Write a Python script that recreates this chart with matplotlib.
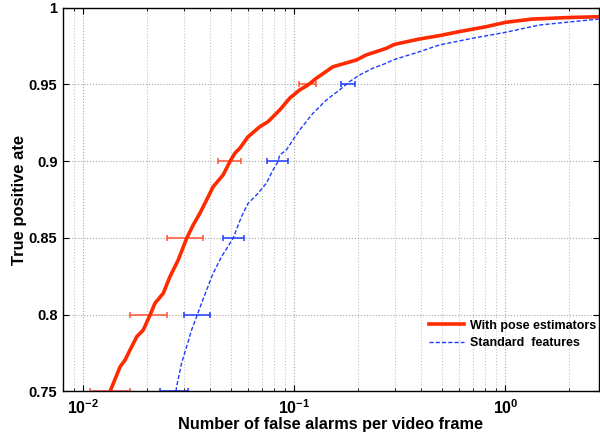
import matplotlib
matplotlib.use("Agg")
import matplotlib.pyplot as plt
from matplotlib.ticker import LogLocator, FixedLocator, FixedFormatter, NullFormatter

plt.rcParams['font.family'] = ['Liberation Sans', 'DejaVu Sans']
plt.rcParams['font.weight'] = 'bold'
plt.rcParams['mathtext.fontset'] = 'custom'
plt.rcParams['mathtext.rm'] = 'Liberation Sans:bold'
plt.rcParams['mathtext.it'] = 'Liberation Sans:bold'
plt.rcParams['mathtext.bf'] = 'Liberation Sans:bold'

# ---- data ----
pose_x = [0.01337, 0.01386, 0.01492, 0.01575, 0.01662, 0.01789, 0.01922, 0.02067,
          0.02183, 0.02389, 0.02570, 0.02813, 0.03083, 0.03312, 0.03562, 0.03834,
          0.04117, 0.04591, 0.04939, 0.05216, 0.05507, 0.06028, 0.06846, 0.07491,
          0.08511, 0.09490, 0.1058, 0.1158, 0.1269, 0.1521, 0.1962, 0.2188,
          0.2719, 0.2977, 0.3908, 0.4859, 0.6039, 0.8077, 1.004, 1.342, 2.074, 2.77]
pose_y = [0.750, 0.7552, 0.766, 0.7704, 0.7769, 0.7856, 0.7900, 0.7997,
          0.8074, 0.8139, 0.8247, 0.8356, 0.8497, 0.8584, 0.8660, 0.8747,
          0.8833, 0.8910, 0.8996, 0.9051, 0.9084, 0.9159, 0.9224, 0.9257,
          0.9333, 0.9410, 0.9464, 0.9496, 0.9540, 0.9615, 0.9659, 0.9692,
          0.9735, 0.9761, 0.9796, 0.9818, 0.9844, 0.9876, 0.9905, 0.9926, 0.9937, 0.9941]

std_x = [0.02744, 0.02764, 0.02917, 0.03083, 0.03255, 0.03437, 0.03629, 0.03834,
         0.04117, 0.04512, 0.05119, 0.05610, 0.06028, 0.06604, 0.07362, 0.07912,
         0.08356, 0.08511, 0.09156, 0.09838, 0.1058, 0.1224, 0.1415, 0.1636,
         0.1824, 0.2033, 0.2350, 0.2719, 0.2921, 0.3908, 0.4859, 0.6982,
         1.004, 1.443, 2.074, 2.77]
std_y = [0.750, 0.7530, 0.7683, 0.7791, 0.7900, 0.7986, 0.8074, 0.8160,
         0.8269, 0.8377, 0.8497, 0.8638, 0.8725, 0.8779, 0.8856, 0.8942,
         0.8996, 0.9040, 0.9073, 0.9138, 0.9203, 0.9312, 0.9398, 0.9464,
         0.9518, 0.9561, 0.9605, 0.9638, 0.9659, 0.9713, 0.9757, 0.9801,
         0.9840, 0.9887, 0.9909, 0.9926]

err_levels = [0.75, 0.80, 0.85, 0.90, 0.95]
pose_err_center = [0.01337, 0.02067, 0.03083, 0.04939, 0.1155]
pose_err_low = [0.0108, 0.01663, 0.02479, 0.04347, 0.1050]
pose_err_high = [0.0166, 0.02495, 0.03693, 0.05610, 0.1269]
std_err_center = [0.0275, 0.0346, 0.0514, 0.0833, 0.1805]
std_err_low = [0.02305, 0.0300, 0.0459, 0.0741, 0.1666]
std_err_high = [0.03126, 0.0397, 0.0577, 0.0936, 0.1947]

y_ticks = [0.75, 0.80, 0.85, 0.90, 0.95, 1.0]
y_tick_labels = ['0.75', '0.8', '0.85', '0.9', '0.95', '1']
series_labels = ['With pose estimators', 'Standard  features']
x_label = 'Number of false alarms per video frame'
y_label = 'True positive ate'

red = '#ff2a00'
blue = '#1f3cff'

fig = plt.figure(figsize=(6.0, 4.36), dpi=100)
ax = fig.add_axes([0.105, 0.1025, 0.893, 0.8798])

ax.set_xscale('log')
ax.set_xlim(0.008, 2.77)
ax.set_ylim(0.75, 1.0)

ax.grid(True, which='major', axis='both', linestyle=':', color='#a8a8a8', linewidth=0.8)
ax.grid(True, which='minor', axis='x', linestyle=':', color='#c4c4c4', linewidth=0.8)

ax.plot(pose_x, pose_y, color=red, linewidth=2.6, label=series_labels[0], zorder=3)
ax.plot(std_x, std_y, color=blue, linewidth=1.0, dashes=(3, 1.5), label=series_labels[1], zorder=3)

pxerr = [[c - l for c, l in zip(pose_err_center, pose_err_low)],
         [h - c for c, h in zip(pose_err_center, pose_err_high)]]
sxerr = [[c - l for c, l in zip(std_err_center, std_err_low)],
         [h - c for c, h in zip(std_err_center, std_err_high)]]
ax.errorbar(pose_err_center, err_levels, xerr=pxerr, fmt='none', ecolor='#ff5533',
            elinewidth=1.1, capsize=2.5, capthick=1.1, zorder=2.2)
ax.errorbar(std_err_center, err_levels, xerr=sxerr, fmt='none', ecolor=blue,
            elinewidth=1.1, capsize=2.5, capthick=1.1, zorder=2.2)

ax.yaxis.set_major_locator(FixedLocator(y_ticks))
ax.yaxis.set_major_formatter(FixedFormatter(y_tick_labels))
ax.xaxis.set_major_locator(LogLocator(base=10, numticks=10))
ax.xaxis.set_minor_locator(LogLocator(base=10, subs=tuple(range(2, 10)), numticks=30))
ax.xaxis.set_minor_formatter(NullFormatter())

ax.tick_params(which='both', direction='in', top=True, right=True)
ax.tick_params(which='major', length=4, width=0.8, pad=4)
ax.tick_params(axis='y', which='major', labelsize=10.5)
ax.tick_params(axis='x', which='major', labelsize=11.5, pad=5)
ax.tick_params(which='minor', length=2, width=0.6)
for lab in ax.get_yticklabels():
    lab.set_fontweight('bold')

for s in ax.spines.values():
    s.set_linewidth(1.0)
    s.set_zorder(2.5)

ax.set_xlabel(x_label, fontsize=11.7, fontweight='bold', labelpad=0)
ax.set_ylabel(y_label, fontsize=11.9, fontweight='bold', labelpad=1.5)

leg = ax.legend(loc='lower right', bbox_to_anchor=(1.0, 0.103), frameon=False,
                prop={'size': 9, 'weight': 'bold'}, handlelength=2.8, handletextpad=0.5,
                labelspacing=0.45, borderaxespad=0.0, borderpad=0.2)

fig.savefig('out.png', dpi=100)
